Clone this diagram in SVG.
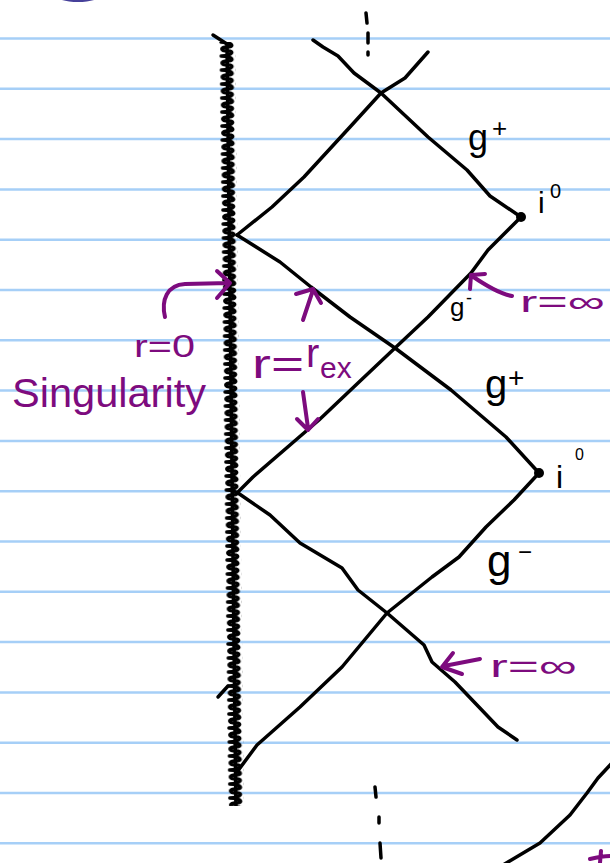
<svg xmlns="http://www.w3.org/2000/svg" width="610" height="863" viewBox="0 0 610 863">
<style>
.paper{stroke:#a6cff7;stroke-width:2.5}
.ink{fill:none;stroke:#000;stroke-width:3.5;stroke-linecap:round;stroke-linejoin:round}
.pink{fill:none;stroke:#7d0b7e;stroke-width:4;stroke-linecap:round;stroke-linejoin:round}
.lbl{font-family:"Liberation Sans",Arial,sans-serif;fill:#000}
.plbl{font-family:"Liberation Sans",Arial,sans-serif;fill:#7d0b7e}
</style>
<defs>
<pattern id="zig" patternUnits="userSpaceOnUse" x="-8" y="0" width="16" height="14">
<path d="M2,0 C15,1 15,5 8,5 C1,5 1,9 9,9 C15,9 14,13 2,14" fill="none" stroke="#000" stroke-width="3.6" stroke-linecap="round"/>
</pattern>
</defs>
<rect width="610" height="863" fill="#fff"/>
<g id="paper">
<line class="paper" x1="0" x2="610" y1="38.5" y2="38.5"/>
<line class="paper" x1="0" x2="610" y1="88.8" y2="88.8"/>
<line class="paper" x1="0" x2="610" y1="139.1" y2="139.1"/>
<line class="paper" x1="0" x2="610" y1="189.4" y2="189.4"/>
<line class="paper" x1="0" x2="610" y1="239.7" y2="239.7"/>
<line class="paper" x1="0" x2="610" y1="290" y2="290"/>
<line class="paper" x1="0" x2="610" y1="340.3" y2="340.3"/>
<line class="paper" x1="0" x2="610" y1="390.6" y2="390.6"/>
<line class="paper" x1="0" x2="610" y1="440.9" y2="440.9"/>
<line class="paper" x1="0" x2="610" y1="491.2" y2="491.2"/>
<line class="paper" x1="0" x2="610" y1="541.5" y2="541.5"/>
<line class="paper" x1="0" x2="610" y1="591.8" y2="591.8"/>
<line class="paper" x1="0" x2="610" y1="642.1" y2="642.1"/>
<line class="paper" x1="0" x2="610" y1="692.4" y2="692.4"/>
<line class="paper" x1="0" x2="610" y1="742.7" y2="742.7"/>
<line class="paper" x1="0" x2="610" y1="793" y2="793"/>
<line class="paper" x1="0" x2="610" y1="843.3" y2="843.3"/>
<ellipse cx="78" cy="-5" rx="23" ry="7" fill="#46409a"/>
</g>
<g id="singularity">
<g transform="translate(227,42) rotate(-0.67)">
<rect x="-8" y="0" width="16" height="764" fill="url(#zig)"/>
<line x1="0" y1="0" x2="0" y2="764" stroke="#000" stroke-width="3.5"/>
</g>
<path class="ink" d="M213,35 L230,46"/>
<path class="ink" d="M218,697 L228,686"/>
</g>
<g id="connectors">
<polyline class="ink" points="313,40 323,47 338,56 354,73 381,93 428,137 467,170 490,196 521,217"/>
<polyline class="ink" points="428,52 405,78 381,93 350,127 304,177 272,207 237,235"/>
<polyline class="ink" points="237,235 280,262 311,287 350,317 395,348 451,390 506,437 539,473"/>
<polyline class="ink" points="521,217 488,250 471,273 428,317 395,348 358,383 319,420 253,477 238,492"/>
<polyline class="ink" points="238,493 270,515 300,543 342,568 358,590 387,613 424,645 432,662 455,682 498,727 517,740"/>
<polyline class="ink" points="539,473 514,500 486,527 459,557 432,577 387,613 342,667 300,707 257,745 237,772"/>
<polyline class="ink" points="612,763 598,778 587,793 570,815 540,843 503,865"/>
<path class="ink" d="M366,13 L367,23 M368,33 L368,43 M368,52 L368,55 M375,787 L376,797 M379,817 L379,823 M380,843 L381,858"/>
</g>
<g id="i0-upper">
<circle cx="521" cy="217" r="5"/>
<text class="lbl" x="538" y="213" font-size="30">i<tspan x="550" y="198" font-size="20">0</tspan></text>
</g>
<g id="i0-lower">
<circle cx="539" cy="473" r="5"/>
<text class="lbl" x="556" y="488" font-size="32">i<tspan x="575" y="460" font-size="16">0</tspan></text>
</g>
<g id="scri-plus-upper">
<text class="lbl" x="468" y="150" font-size="36">g<tspan x="492" y="137" font-size="26">+</tspan></text>
</g>
<g id="scri-minus-upper">
<text class="lbl" x="450" y="316" font-size="26">g<tspan x="466" y="304" font-size="18">-</tspan></text>
</g>
<g id="scri-plus-lower">
<text class="lbl" x="485" y="398" font-size="40">g<tspan x="508" y="387" font-size="28">+</tspan></text>
</g>
<g id="scri-minus-lower">
<text class="lbl" x="487" y="576" font-size="44">g<tspan x="518" y="560" font-size="24">−</tspan></text>
</g>
<g id="label-r0">
<text class="plbl" x="134" y="357" font-size="32" textLength="61" lengthAdjust="spacingAndGlyphs">r=0</text>
<path class="pink" d="M165,317 C161,300 167,285 185,284 L229,283 M217,271 L230,283 L217,298"/>
</g>
<g id="label-singularity">
<text class="plbl" x="12" y="407" font-size="40" textLength="194" lengthAdjust="spacingAndGlyphs">Singularity</text>
</g>
<g id="label-rex">
<text class="plbl" x="252" y="378" font-size="40"><tspan textLength="52" lengthAdjust="spacingAndGlyphs">r=</tspan><tspan x="306" y="367">r</tspan><tspan x="320" y="378" font-size="30">ex</tspan></text>
<path class="pink" d="M303,320 L313,290 M296,294 L313,289 L321,303"/>
<path class="pink" d="M303,392 L308,428 M297,419 L308,430 L318,419"/>
</g>
<g id="label-rinf-upper">
<text class="plbl" x="520" y="312" font-size="30" textLength="85" lengthAdjust="spacingAndGlyphs">r=∞</text>
<path class="pink" d="M512,296 C500,294 488,287 472,276 M470,289 L471,275 L485,274"/>
</g>
<g id="label-rinf-lower">
<text class="plbl" x="490" y="677" font-size="32" textLength="87" lengthAdjust="spacingAndGlyphs">r=∞</text>
<path class="pink" d="M480,659 L444,666 M453,653 L442,667 L462,674"/>
</g>
<path class="pink" d="M590,859 C598,857 604,856 610,856 M601,851 L600,863"/>
</svg>
